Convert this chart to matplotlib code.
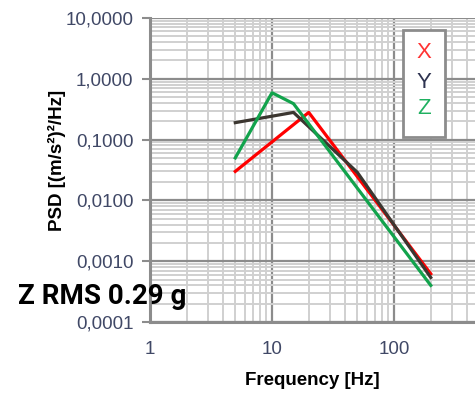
import numpy as np
import matplotlib.pyplot as plt
from matplotlib.ticker import FixedLocator, FuncFormatter, NullFormatter

# PSD profile
freq_x = [5, 20, 200]
psd_x = [0.03, 0.28, 0.00062]

freq_y = [5, 15, 50, 200]
psd_y = [0.19, 0.28, 0.029, 0.00054]

freq_z = [5, 10, 15, 200]
psd_z = [0.05, 0.59, 0.39, 0.0004]

y_major = [0.0001, 0.001, 0.01, 0.1, 1, 10]
x_major = [1, 10, 100, 1000]
rms_text = "Z RMS 0.29 g"

tick_font = ['Liberation Sans Narrow', 'Liberation Sans', 'DejaVu Sans']
tick_col = '#404866'

fig = plt.figure(figsize=(4.75, 3.98), dpi=100)
ax = fig.add_axes([150/475, 1 - 322/398, 1 - 150/475, (322 - 18)/398])

ax.plot(freq_x, psd_x, color='#ff0000', lw=2.3, zorder=3)
ax.plot(freq_y, psd_y, color='#3b3630', lw=2.3, zorder=4)
ax.plot(freq_z, psd_z, color='#12a34c', lw=2.3, zorder=5)

ax.set_xscale('log')
ax.set_yscale('log')
ax.set_xlim(1, 461)
ax.set_ylim(0.0001, 10)

ax.xaxis.set_major_locator(FixedLocator(x_major))
ax.yaxis.set_major_locator(FixedLocator(y_major))
minor_x = [m * d for d in [1, 10, 100] for m in range(2, 10)]
minor_y = [m * d for d in [0.0001, 0.001, 0.01, 0.1, 1] for m in range(2, 10)]
ax.xaxis.set_minor_locator(FixedLocator(minor_x))
ax.yaxis.set_minor_locator(FixedLocator(minor_y))
ax.xaxis.set_minor_formatter(NullFormatter())
ax.yaxis.set_minor_formatter(NullFormatter())
ax.yaxis.set_major_formatter(FuncFormatter(lambda v, p: f"{v:.4f}".replace('.', ',')))
ax.xaxis.set_major_formatter(FuncFormatter(lambda v, p: f"{v:g}"))

ax.grid(which='minor', color='#d0d0d0', lw=1.4, zorder=0)
ax.grid(which='major', color='#8c8c8c', lw=1.6, zorder=1)
ax.set_axisbelow(True)

for s in ['top', 'right']:
    ax.spines[s].set_visible(False)
for s in ['left', 'bottom']:
    ax.spines[s].set_color('#8c8c8c')
    ax.spines[s].set_linewidth(2.2)

ax.tick_params(axis='y', which='major', length=6, width=1.5, color='#8c8c8c', pad=6)
ax.tick_params(axis='x', which='major', length=0, pad=14)
ax.tick_params(which='minor', length=0)
for lab in ax.get_xticklabels() + ax.get_yticklabels():
    lab.set_family(tick_font)
    lab.set_fontsize(13.5)
    lab.set_color(tick_col)

ax.set_xlabel('Frequency [Hz]', family=tick_font, fontsize=13.5, fontweight='bold', labelpad=10)
fig.text(57/475, 1 - 160/398, 'PSD [(m/s²)²/Hz]', rotation=90, ha='center', va='center',
         family=['Liberation Sans', 'DejaVu Sans'], fontsize=13.5, fontweight='bold')

# legend box with coloured letters only
fig.patches.append(plt.Rectangle((403/475, 1 - 137/398), 42/475, 107/398, transform=fig.transFigure,
                                 facecolor='white', edgecolor='#8c8c8c', lw=2, zorder=10))
for lab, col, yy in [('X', '#ff3333', 53), ('Y', '#2e3350', 82), ('Z', '#1fb060', 108)]:
    fig.text(424/475, 1 - yy/398, lab, color=col, ha='center', va='center',
             family=['Liberation Sans', 'DejaVu Sans'], fontsize=16, zorder=11)

fig.text(18/475, 1 - 296/398, rms_text, ha='left', va='center', family=['Roboto', 'DejaVu Sans'],
         fontsize=20, fontweight='bold', color='black', zorder=12)

fig.savefig('out.png', dpi=100)
